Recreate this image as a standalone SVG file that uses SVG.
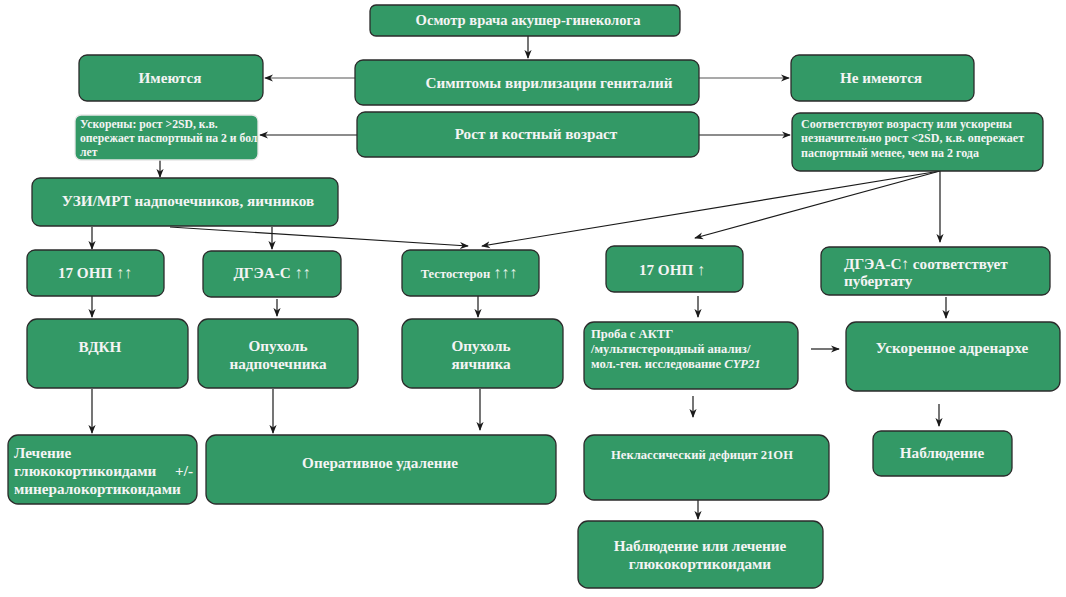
<svg xmlns="http://www.w3.org/2000/svg" width="1066" height="597" viewBox="0 0 1066 597">
<style>
.n rect{fill:#339966;stroke:#2b2b2b;stroke-width:1.3}
.n text{fill:#f4f4f4;font-weight:bold;font-size:15.2px}
.c{text-anchor:middle}
.n text.s{font-size:11.7px}
.n text.s2{font-size:12px}
.n text.m{font-size:12.6px}
.ar{font-weight:normal;fill:#e6f2ea;font-size:16px}
#edges line{stroke:#1a1a1a;stroke-width:1.2;marker-end:url(#ah)}
#edges line.g{stroke:#555}
</style>
<defs>
<marker id="ah" viewBox="0 0 10 10" refX="9" refY="5" markerWidth="9" markerHeight="9" markerUnits="userSpaceOnUse" orient="auto">
<path d="M0,1 L10,5 L0,9 L3,5 z" fill="#1a1a1a"/>
</marker>
<clipPath id="cp6"><rect x="75" y="115" width="183" height="45"/></clipPath>
</defs>
<rect width="1066" height="597" fill="#ffffff"/>
<g id="edges">
<line x1="528" y1="36" x2="528" y2="58"/>
<line class="g" x1="355" y1="78" x2="265" y2="78"/>
<line class="g" x1="699" y1="78" x2="789" y2="78"/>
<line x1="357" y1="135" x2="260" y2="135"/>
<line x1="699" y1="135" x2="790" y2="135"/>
<line x1="160" y1="160" x2="160" y2="177"/>
<line x1="92" y1="227" x2="92" y2="249"/>
<line x1="272" y1="227" x2="272" y2="249"/>
<line x1="170" y1="227" x2="468" y2="246"/>
<line x1="940" y1="171" x2="482" y2="246"/>
<line x1="940" y1="171" x2="695" y2="238"/>
<line x1="940" y1="171" x2="940" y2="242"/>
<line x1="92" y1="296" x2="92" y2="317"/>
<line x1="277" y1="299" x2="277" y2="316"/>
<line x1="478" y1="296" x2="478" y2="317"/>
<line x1="698" y1="296" x2="698" y2="317"/>
<line x1="946" y1="297" x2="946" y2="318"/>
<line x1="811" y1="349" x2="839" y2="349"/>
<line x1="693" y1="396" x2="693" y2="417"/>
<line x1="939" y1="404" x2="939" y2="426"/>
<line x1="698" y1="500" x2="698" y2="519"/>
<line x1="92" y1="389" x2="92" y2="433"/>
<line x1="273" y1="389" x2="273" y2="433"/>
<line x1="480" y1="389" x2="480" y2="430"/>
</g>
<g font-family="Liberation Serif, Times New Roman, serif">
<g id="n1" class="n"><rect x="370" y="5" width="310" height="31" rx="6"/><text class="c" x="528" y="25" style="font-size:14.6px">Осмотр врача акушер-гинеколога</text></g>
<g id="n2" class="n"><rect x="355" y="60" width="344" height="45" rx="8"/><text class="c" x="549" y="88">Симптомы вирилизации гениталий</text></g>
<g id="n3" class="n"><rect x="357" y="112" width="342" height="45" rx="8"/><text class="c" x="536" y="139">Рост и костный возраст</text></g>
<g id="n4" class="n"><rect x="79" y="55" width="184" height="46" rx="8"/><text class="c" x="170" y="83">Имеются</text></g>
<g id="n5" class="n"><rect x="791" y="55" width="183" height="46" rx="8"/><text class="c" x="881" y="83">Не имеются</text></g>
<g id="n6" class="n"><rect x="75" y="115" width="183" height="45" rx="6" style="stroke:#e8e8e8"/><g clip-path="url(#cp6)"><text class="s" x="80" y="128">Ускорены: рост &gt;2SD, к.в.</text><text class="s" x="80" y="142">опережает паспортный на 2 и бол</text><text class="s" x="80" y="156">лет</text></g></g>
<g id="n7" class="n"><rect x="792" y="113" width="251" height="58" rx="8"/><text class="s2" x="801" y="128">Соответствуют возрасту или ускорены</text><text class="s2" x="801" y="142">незначительно рост &lt;2SD, к.в. опережает</text><text class="s2" x="801" y="157">паспортный менее, чем на 2 года</text></g>
<g id="n8" class="n"><rect x="32" y="178" width="306" height="48" rx="8"/><text class="c" x="188" y="206">УЗИ/МРТ  надпочечников,  яичников</text></g>
<g id="n9" class="n"><rect x="27" y="250" width="137" height="46" rx="8"/><text class="c" x="95" y="278">17 ОНП <tspan class="ar">↑↑</tspan></text></g>
<g id="n10" class="n"><rect x="203" y="251" width="138" height="46" rx="8"/><text class="c" x="272" y="278">ДГЭА-С <tspan class="ar">↑↑</tspan></text></g>
<g id="n11" class="n"><rect x="402" y="250" width="137" height="46" rx="8"/><text class="c m" x="469" y="278">Тестостерон <tspan class="ar">↑↑↑</tspan></text></g>
<g id="n12" class="n"><rect x="606" y="246" width="137" height="46" rx="8"/><text class="c" x="672" y="275">17 ОНП <tspan class="ar">↑</tspan></text></g>
<g id="n13" class="n"><rect x="821" y="247" width="229" height="48" rx="8"/><text x="844" y="269">ДГЭА-С↑ соответствует</text><text x="844" y="286">пубертату</text></g>
<g id="n14" class="n"><rect x="27" y="319" width="161" height="69" rx="10"/><text class="c" x="100" y="352">ВДКН</text></g>
<g id="n15" class="n"><rect x="198" y="319" width="160" height="69" rx="10"/><text class="c" x="278" y="351">Опухоль</text><text class="c" x="278" y="369">надпочечника</text></g>
<g id="n16" class="n"><rect x="402" y="319" width="161" height="69" rx="10"/><text class="c" x="481" y="351">Опухоль</text><text class="c" x="481" y="369">яичника</text></g>
<g id="n17" class="n"><rect x="8" y="435" width="189" height="69" rx="10"/><text x="14" y="458">Лечение</text><text x="14" y="476">глюкокортикоидами</text><text x="193" y="476" style="text-anchor:end">+/-</text><text x="14" y="494">минералокортикоидами</text></g>
<g id="n18" class="n"><rect x="206" y="435" width="350" height="69" rx="10"/><text class="c" x="380" y="468">Оперативное удаление</text></g>
<g id="n19" class="n"><rect x="584" y="322" width="214" height="67" rx="10"/><text class="m" x="591" y="338">Проба с АКТГ</text><text class="m" x="591" y="353">/мультистероидный анализ/</text><text class="m" x="591" y="368">мол.-ген. исследование <tspan font-style="italic">CYP21</tspan></text></g>
<g id="n20" class="n"><rect x="846" y="322" width="214" height="69" rx="10"/><text class="c" x="952" y="353">Ускоренное  адренархе</text></g>
<g id="n21" class="n"><rect x="584" y="435" width="245" height="65" rx="10"/><text class="c m" x="702" y="459">Неклассический дефицит 21ОН</text></g>
<g id="n22" class="n"><rect x="873" y="431" width="139" height="45" rx="8"/><text class="c" x="942" y="458">Наблюдение</text></g>
<g id="n23" class="n"><rect x="578" y="521" width="245" height="67" rx="10"/><text class="c" x="700" y="551">Наблюдение  или лечение</text><text class="c" x="700" y="569">глюкокортикоидами</text></g>
</g>
</svg>
